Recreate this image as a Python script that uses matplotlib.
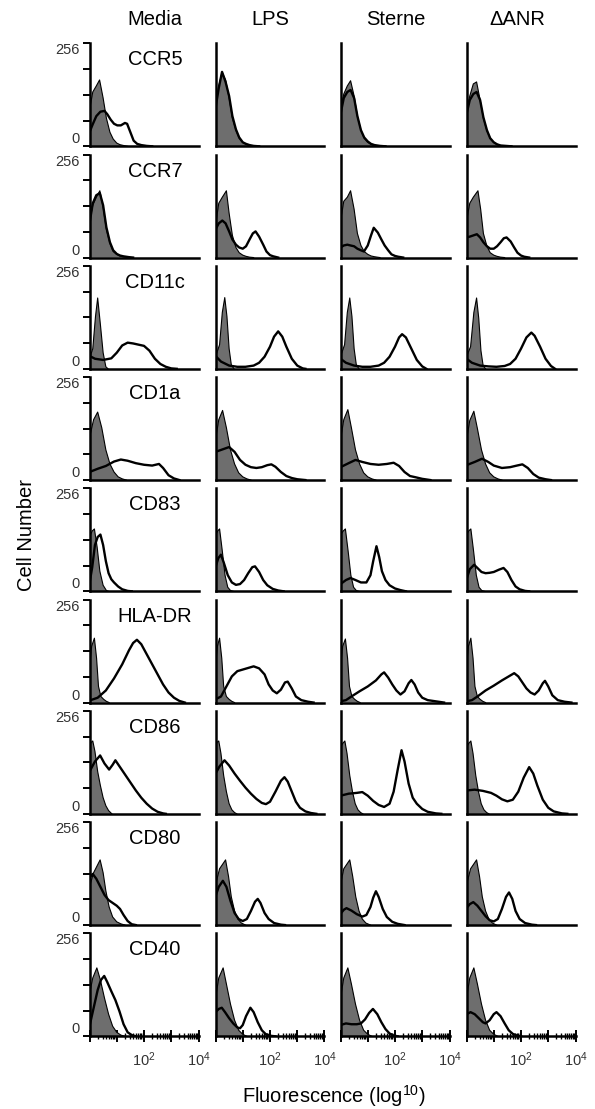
import matplotlib
matplotlib.use('Agg')
import numpy as np
import matplotlib.pyplot as plt
from matplotlib.ticker import FixedLocator, LogLocator, NullFormatter, NullLocator

plt.rcParams['font.family'] = ['Liberation Sans', 'DejaVu Sans']
plt.rcParams['mathtext.fontset'] = 'custom'
plt.rcParams['mathtext.rm'] = 'Liberation Sans'
plt.rcParams['mathtext.it'] = 'Liberation Sans:italic'
plt.rcParams['mathtext.bf'] = 'Liberation Sans:bold'

conditions = ['Media', 'LPS', 'Sterne', '\u0394ANR']
markers = ['CCR5', 'CCR7', 'CD11c', 'CD1a', 'CD83', 'HLA-DR', 'CD86', 'CD80', 'CD40']

# histograms: (log10 fluorescence, cell count) points
# every list holds 4 curves in the order Media, LPS, Sterne, dANR
# *_iso = grey filled control, *_ab = black outline (stained)
ccr5_iso = [
    [(0, 90), (0.12, 135), (0.25, 150), (0.37, 165), (0.5, 120), (0.62, 70), (0.75, 35), (0.87, 18), (1.0, 8), (1.12, 4), (1.25, 2), (1.4, 0)],
    [(0, 100), (0.12, 150), (0.24, 184), (0.37, 165), (0.5, 120), (0.62, 70), (0.75, 40), (0.87, 20), (1.0, 10), (1.12, 5), (1.25, 2), (1.45, 0)],
    [(0, 90), (0.12, 130), (0.25, 150), (0.37, 163), (0.5, 125), (0.62, 75), (0.75, 40), (0.87, 20), (1.0, 10), (1.12, 5), (1.25, 2), (1.45, 0)],
    [(0, 90), (0.12, 125), (0.25, 155), (0.37, 160), (0.5, 115), (0.62, 70), (0.75, 38), (0.87, 20), (1.0, 10), (1.12, 5), (1.25, 2), (1.45, 0)],
]
ccr5_ab = [
    [(0, 35), (0.12, 55), (0.25, 75), (0.4, 86), (0.55, 88), (0.65, 80), (0.78, 66), (0.9, 56), (1.02, 52), (1.15, 52), (1.3, 58), (1.38, 56), (1.5, 35), (1.62, 14), (1.75, 6), (1.9, 3), (2.1, 1), (2.3, 0)],
    [(0, 95), (0.12, 145), (0.24, 185), (0.37, 160), (0.5, 125), (0.62, 75), (0.75, 42), (0.87, 22), (1.0, 10), (1.12, 6), (1.25, 3), (1.4, 1), (1.6, 0)],
    [(0, 80), (0.12, 120), (0.25, 135), (0.37, 140), (0.5, 120), (0.62, 75), (0.75, 40), (0.87, 22), (1.0, 12), (1.12, 6), (1.25, 3), (1.45, 1), (1.65, 0)],
    [(0, 80), (0.12, 115), (0.25, 130), (0.37, 135), (0.5, 115), (0.62, 72), (0.75, 40), (0.87, 20), (1.0, 10), (1.12, 5), (1.25, 2), (1.45, 1), (1.65, 0)],
]

ccr7_iso = [
    [(0, 90), (0.12, 130), (0.25, 150), (0.38, 166), (0.5, 125), (0.62, 70), (0.75, 35), (0.87, 15), (1.0, 8), (1.12, 4), (1.25, 2), (1.45, 0)],
    [(0, 80), (0.12, 135), (0.25, 150), (0.4, 166), (0.5, 110), (0.62, 55), (0.75, 25), (0.87, 12), (1.0, 6), (1.12, 3), (1.25, 1), (1.4, 0)],
    [(0, 90), (0.12, 140), (0.25, 150), (0.37, 166), (0.5, 120), (0.62, 60), (0.75, 30), (0.87, 15), (1.0, 8), (1.12, 4), (1.25, 2), (1.45, 0)],
    [(0, 90), (0.12, 135), (0.25, 150), (0.42, 166), (0.52, 120), (0.62, 60), (0.75, 28), (0.87, 12), (1.0, 6), (1.12, 3), (1.25, 1), (1.4, 0)],
]
ccr7_ab = [
    [(0, 85), (0.12, 135), (0.25, 155), (0.38, 160), (0.5, 130), (0.62, 75), (0.75, 38), (0.87, 18), (1.0, 9), (1.12, 5), (1.25, 3), (1.45, 1), (1.6, 0)],
    [(0, 70), (0.12, 85), (0.25, 92), (0.37, 85), (0.5, 65), (0.62, 45), (0.75, 32), (0.87, 25), (1.0, 22), (1.12, 28), (1.25, 45), (1.37, 60), (1.47, 65), (1.6, 52), (1.75, 32), (1.87, 15), (2.0, 6), (2.12, 3), (2.3, 0)],
    [(0, 25), (0.12, 30), (0.25, 32), (0.37, 30), (0.5, 28), (0.62, 22), (0.75, 18), (0.86, 15), (1.0, 30), (1.12, 55), (1.22, 74), (1.37, 62), (1.5, 45), (1.62, 30), (1.75, 18), (1.87, 8), (2.0, 4), (2.12, 2), (2.3, 0)],
    [(0, 50), (0.12, 52), (0.25, 55), (0.38, 58), (0.5, 50), (0.62, 38), (0.75, 28), (0.87, 22), (1.0, 22), (1.12, 28), (1.25, 38), (1.37, 48), (1.47, 50), (1.62, 40), (1.75, 25), (1.87, 12), (2.0, 5), (2.12, 2), (2.3, 0)],
]

cd11c_iso = [
    [(0, 25), (0.12, 50), (0.22, 130), (0.3, 176), (0.4, 110), (0.5, 40), (0.6, 5), (0.68, 0)],
    [(0, 30), (0.15, 60), (0.25, 140), (0.34, 177), (0.42, 130), (0.5, 50), (0.58, 10), (0.68, 0)],
    [(0, 30), (0.15, 60), (0.25, 140), (0.34, 176), (0.42, 130), (0.5, 50), (0.58, 10), (0.68, 0)],
    [(0, 30), (0.15, 55), (0.27, 140), (0.37, 176), (0.45, 125), (0.53, 45), (0.61, 8), (0.7, 0)],
]
cd11c_ab = [
    [(0, 32), (0.2, 25), (0.5, 22), (0.8, 26), (1.0, 40), (1.2, 58), (1.4, 65), (1.6, 63), (1.8, 60), (2.0, 57), (2.2, 45), (2.4, 25), (2.6, 12), (2.8, 5), (3.0, 1), (3.2, 0)],
    [(0, 32), (0.2, 18), (0.5, 8), (0.8, 5), (1.1, 5), (1.4, 8), (1.6, 15), (1.8, 30), (2.0, 55), (2.15, 80), (2.3, 93), (2.45, 80), (2.6, 55), (2.8, 25), (3.0, 8), (3.2, 1), (3.3, 0)],
    [(0, 25), (0.2, 15), (0.5, 8), (0.8, 5), (1.1, 5), (1.4, 8), (1.6, 15), (1.8, 30), (2.0, 55), (2.15, 78), (2.26, 86), (2.4, 78), (2.6, 50), (2.8, 22), (3.0, 6), (3.15, 0)],
    [(0, 25), (0.2, 15), (0.5, 8), (0.8, 6), (1.1, 5), (1.4, 7), (1.6, 12), (1.8, 25), (2.0, 50), (2.2, 78), (2.38, 90), (2.5, 82), (2.7, 55), (2.9, 25), (3.1, 7), (3.25, 0)],
]

cd1a_iso = [
    [(0, 105), (0.15, 150), (0.3, 169), (0.45, 130), (0.6, 75), (0.75, 40), (0.9, 20), (1.05, 8), (1.2, 3), (1.35, 0)],
    [(0, 100), (0.12, 150), (0.26, 173), (0.4, 130), (0.55, 75), (0.7, 40), (0.85, 18), (1.0, 8), (1.15, 3), (1.3, 0)],
    [(0, 100), (0.12, 150), (0.27, 175), (0.4, 130), (0.55, 75), (0.7, 40), (0.85, 18), (1.0, 8), (1.15, 3), (1.3, 0)],
    [(0, 100), (0.12, 148), (0.27, 171), (0.4, 128), (0.55, 75), (0.7, 40), (0.85, 18), (1.0, 8), (1.15, 3), (1.3, 0)],
]
cd1a_ab = [
    [(0, 20), (0.3, 28), (0.6, 35), (0.9, 46), (1.15, 51), (1.4, 48), (1.7, 42), (2.0, 38), (2.3, 36), (2.55, 40), (2.7, 30), (2.9, 12), (3.1, 4), (3.3, 0)],
    [(0, 70), (0.25, 76), (0.5, 82), (0.7, 70), (0.9, 50), (1.1, 38), (1.3, 32), (1.5, 30), (1.7, 32), (1.9, 37), (2.05, 39), (2.2, 33), (2.4, 20), (2.6, 10), (2.8, 5), (3.0, 2), (3.3, 0)],
    [(0, 32), (0.3, 42), (0.55, 50), (0.8, 45), (1.1, 40), (1.4, 38), (1.7, 40), (1.95, 43), (2.15, 35), (2.35, 20), (2.55, 10), (2.75, 7), (3.0, 3), (3.3, 0)],
    [(0, 37), (0.3, 45), (0.57, 53), (0.8, 45), (1.0, 36), (1.3, 30), (1.6, 32), (1.85, 36), (2.05, 39), (2.25, 30), (2.45, 15), (2.65, 6), (2.9, 2), (3.1, 0)],
]

cd83_iso = [
    [(0, 135), (0.1, 150), (0.18, 155), (0.28, 110), (0.38, 50), (0.5, 15), (0.62, 2), (0.7, 0)],
    [(0, 140), (0.08, 150), (0.15, 155), (0.25, 100), (0.35, 40), (0.45, 10), (0.55, 2), (0.65, 0)],
    [(0, 140), (0.1, 150), (0.18, 155), (0.28, 100), (0.38, 40), (0.48, 10), (0.58, 2), (0.68, 0)],
    [(0, 140), (0.08, 150), (0.16, 155), (0.26, 100), (0.36, 40), (0.46, 10), (0.56, 2), (0.66, 0)],
]
cd83_ab = [
    [(0, 20), (0.1, 60), (0.2, 115), (0.3, 135), (0.4, 141), (0.5, 115), (0.6, 75), (0.7, 45), (0.8, 30), (0.9, 22), (1.05, 12), (1.2, 5), (1.4, 1), (1.55, 0)],
    [(0, 60), (0.1, 82), (0.2, 91), (0.3, 72), (0.45, 40), (0.6, 22), (0.75, 16), (0.9, 18), (1.05, 28), (1.2, 45), (1.35, 60), (1.45, 62), (1.6, 48), (1.75, 28), (1.9, 15), (2.1, 6), (2.3, 2), (2.5, 0)],
    [(0, 18), (0.2, 28), (0.37, 33), (0.55, 28), (0.75, 22), (0.95, 22), (1.1, 40), (1.2, 75), (1.32, 112), (1.42, 85), (1.52, 50), (1.65, 28), (1.8, 15), (2.0, 7), (2.2, 3), (2.4, 0)],
    [(0, 30), (0.12, 55), (0.28, 66), (0.4, 58), (0.55, 48), (0.7, 45), (0.85, 46), (1.0, 48), (1.2, 54), (1.36, 58), (1.5, 48), (1.65, 28), (1.8, 12), (1.95, 5), (2.15, 1), (2.3, 0)],
]

hladr_iso = [
    [(0, 90), (0.08, 140), (0.18, 160), (0.26, 110), (0.33, 40), (0.42, 15), (0.52, 8), (0.62, 3), (0.72, 0)],
    [(0, 90), (0.07, 140), (0.15, 160), (0.23, 110), (0.3, 40), (0.4, 15), (0.5, 8), (0.6, 3), (0.7, 0)],
    [(0, 90), (0.08, 140), (0.18, 158), (0.26, 110), (0.33, 40), (0.42, 15), (0.52, 8), (0.62, 3), (0.72, 0)],
    [(0, 90), (0.07, 140), (0.16, 160), (0.24, 110), (0.31, 40), (0.4, 15), (0.5, 8), (0.6, 3), (0.7, 0)],
]
hladr_ab = [
    [(0, 5), (0.3, 12), (0.6, 30), (0.9, 60), (1.2, 95), (1.45, 130), (1.6, 148), (1.74, 156), (1.9, 145), (2.1, 120), (2.3, 95), (2.5, 70), (2.7, 45), (2.9, 25), (3.1, 12), (3.3, 4), (3.5, 0)],
    [(0, 8), (0.2, 15), (0.4, 40), (0.6, 65), (0.8, 78), (1.0, 82), (1.2, 86), (1.4, 90), (1.6, 85), (1.8, 70), (1.95, 45), (2.1, 30), (2.25, 23), (2.4, 32), (2.55, 50), (2.65, 52), (2.8, 35), (2.95, 15), (3.15, 6), (3.4, 2), (3.6, 0)],
    [(0, 3), (0.2, 6), (0.4, 15), (0.7, 28), (1.0, 40), (1.3, 55), (1.5, 70), (1.6, 75), (1.75, 62), (1.9, 45), (2.05, 30), (2.2, 20), (2.35, 28), (2.5, 48), (2.6, 56), (2.72, 45), (2.85, 25), (3.0, 12), (3.2, 6), (3.5, 3), (3.8, 0)],
    [(0, 3), (0.2, 6), (0.4, 15), (0.7, 30), (1.0, 42), (1.3, 55), (1.55, 65), (1.75, 73), (1.9, 65), (2.05, 50), (2.2, 35), (2.35, 25), (2.5, 20), (2.65, 30), (2.8, 48), (2.88, 54), (3.0, 40), (3.15, 18), (3.35, 6), (3.6, 2), (3.85, 0)],
]

cd86_iso = [
    [(0, 172), (0.07, 178), (0.12, 181), (0.2, 155), (0.3, 105), (0.4, 70), (0.5, 40), (0.6, 20), (0.7, 8), (0.82, 0)],
    [(0, 170), (0.06, 178), (0.12, 181), (0.2, 150), (0.3, 95), (0.4, 55), (0.5, 25), (0.6, 10), (0.7, 3), (0.78, 0)],
    [(0, 165), (0.08, 175), (0.16, 181), (0.24, 150), (0.34, 95), (0.44, 55), (0.54, 25), (0.64, 10), (0.74, 3), (0.82, 0)],
    [(0, 165), (0.08, 175), (0.16, 181), (0.24, 150), (0.34, 95), (0.44, 55), (0.54, 25), (0.64, 10), (0.74, 3), (0.82, 0)],
]
cd86_ab = [
    [(0, 105), (0.2, 130), (0.39, 145), (0.55, 125), (0.72, 110), (0.85, 122), (0.95, 133), (1.1, 118), (1.3, 98), (1.5, 78), (1.7, 58), (1.9, 40), (2.1, 25), (2.3, 13), (2.5, 5), (2.7, 1), (2.8, 0)],
    [(0, 100), (0.15, 118), (0.33, 133), (0.5, 120), (0.7, 100), (0.9, 82), (1.1, 65), (1.3, 50), (1.5, 37), (1.7, 27), (1.85, 24), (2.0, 30), (2.2, 55), (2.4, 82), (2.53, 91), (2.65, 80), (2.8, 55), (2.95, 30), (3.1, 15), (3.3, 6), (3.5, 2), (3.7, 0)],
    [(0, 45), (0.3, 50), (0.6, 52), (0.8, 54), (1.0, 45), (1.2, 32), (1.4, 22), (1.6, 17), (1.8, 25), (1.95, 55), (2.1, 110), (2.24, 158), (2.35, 130), (2.5, 75), (2.65, 40), (2.8, 25), (3.0, 12), (3.2, 5), (3.5, 1), (3.7, 0)],
    [(0, 58), (0.3, 60), (0.6, 57), (0.9, 52), (1.1, 45), (1.3, 36), (1.5, 31), (1.7, 35), (1.9, 55), (2.1, 90), (2.3, 116), (2.45, 100), (2.6, 70), (2.8, 35), (3.0, 15), (3.2, 6), (3.5, 1), (3.7, 0)],
]

cd80_iso = [
    [(0, 95), (0.15, 130), (0.3, 150), (0.39, 162), (0.5, 130), (0.6, 85), (0.72, 45), (0.85, 20), (1.0, 8), (1.15, 3), (1.3, 0)],
    [(0, 100), (0.15, 140), (0.3, 155), (0.37, 162), (0.48, 120), (0.58, 70), (0.7, 35), (0.82, 15), (0.95, 5), (1.1, 0)],
    [(0, 100), (0.12, 140), (0.27, 155), (0.34, 162), (0.45, 120), (0.56, 70), (0.68, 35), (0.8, 15), (0.93, 5), (1.1, 0)],
    [(0, 100), (0.15, 140), (0.3, 155), (0.37, 162), (0.48, 120), (0.58, 70), (0.7, 35), (0.82, 15), (0.95, 5), (1.1, 0)],
]
cd80_ab = [
    [(0, 118), (0.12, 127), (0.25, 115), (0.4, 95), (0.55, 75), (0.7, 62), (0.85, 55), (1.0, 48), (1.12, 40), (1.25, 25), (1.4, 10), (1.55, 2), (1.7, 0)],
    [(0, 72), (0.12, 95), (0.27, 110), (0.4, 95), (0.55, 60), (0.7, 30), (0.85, 15), (1.0, 10), (1.15, 15), (1.3, 35), (1.45, 58), (1.55, 65), (1.65, 55), (1.8, 30), (1.95, 15), (2.15, 5), (2.4, 1), (2.55, 0)],
    [(0, 28), (0.12, 38), (0.22, 42), (0.4, 36), (0.6, 27), (0.8, 21), (0.95, 25), (1.1, 45), (1.2, 68), (1.3, 84), (1.4, 70), (1.55, 40), (1.7, 20), (1.9, 8), (2.1, 3), (2.35, 0)],
    [(0, 42), (0.12, 52), (0.25, 57), (0.4, 48), (0.55, 35), (0.7, 22), (0.85, 12), (1.0, 9), (1.15, 15), (1.3, 40), (1.45, 70), (1.56, 81), (1.68, 65), (1.8, 35), (1.95, 15), (2.15, 5), (2.4, 1), (2.55, 0)],
]

cd40_iso = [
    [(0, 105), (0.12, 145), (0.27, 170), (0.4, 140), (0.55, 95), (0.7, 55), (0.85, 25), (1.0, 10), (1.15, 3), (1.3, 0)],
    [(0, 95), (0.12, 145), (0.28, 170), (0.4, 130), (0.55, 80), (0.7, 40), (0.85, 15), (1.0, 5), (1.15, 0)],
    [(0, 95), (0.12, 145), (0.27, 170), (0.4, 130), (0.55, 80), (0.7, 40), (0.85, 15), (1.0, 5), (1.15, 0)],
    [(0, 95), (0.12, 145), (0.27, 170), (0.4, 130), (0.55, 80), (0.7, 40), (0.85, 15), (1.0, 5), (1.15, 0)],
]
cd40_ab = [
    [(0, 25), (0.15, 70), (0.3, 115), (0.42, 140), (0.54, 150), (0.65, 135), (0.8, 112), (0.95, 90), (1.1, 62), (1.25, 30), (1.4, 10), (1.55, 3), (1.7, 0)],
    [(0, 60), (0.12, 68), (0.23, 71), (0.35, 60), (0.5, 45), (0.65, 32), (0.8, 22), (0.9, 20), (1.0, 28), (1.12, 50), (1.28, 71), (1.4, 60), (1.55, 35), (1.7, 15), (1.85, 5), (2.05, 1), (2.2, 0)],
    [(0, 28), (0.2, 32), (0.4, 30), (0.6, 30), (0.75, 32), (0.9, 42), (1.05, 58), (1.19, 68), (1.35, 55), (1.5, 35), (1.65, 18), (1.8, 7), (1.95, 2), (2.1, 0)],
    [(0, 55), (0.15, 60), (0.3, 55), (0.45, 45), (0.6, 35), (0.7, 32), (0.85, 40), (1.0, 55), (1.1, 60), (1.25, 50), (1.4, 32), (1.55, 15), (1.7, 6), (1.85, 2), (2.0, 0)],
]

rows = [
    (ccr5_iso, ccr5_ab), (ccr7_iso, ccr7_ab), (cd11c_iso, cd11c_ab),
    (cd1a_iso, cd1a_ab), (cd83_iso, cd83_ab), (hladr_iso, hladr_ab),
    (cd86_iso, cd86_ab), (cd80_iso, cd80_ab), (cd40_iso, cd40_ab),
]

# layout in pixels
W, H = 595, 1109
fig = plt.figure(figsize=(W / 100, H / 100), dpi=100)
col_x = [89.5, 215.5, 340.5, 466.5]
pw, ph = 109, 103
top0, pitch = 43.3, 111.25
grey = '#6e6e6e'


def px(x, y):
    return x / W, 1 - y / H


for r, (iso, ab) in enumerate(rows):
    top = top0 + r * pitch
    for c in range(4):
        ax = fig.add_axes([col_x[c] / W, 1 - (top + ph) / H, pw / W, ph / H])
        L, n = np.array(iso[c], dtype=float).T
        ax.fill_between(10 ** L, n, 0, facecolor=grey, edgecolor='none', zorder=2)
        ax.plot(10 ** L, n, color='black', lw=0.8, zorder=3)
        L2, n2 = np.array(ab[c], dtype=float).T
        ax.plot(10 ** L2, n2, color='black', lw=1.7, zorder=4, solid_joinstyle='round')

        ax.set_xscale('log')
        ax.set_xlim(1, 1e4)
        ax.set_ylim(0, 256)
        for s in ['top', 'right']:
            ax.spines[s].set_visible(False)
        for s in ['left', 'bottom']:
            ax.spines[s].set_linewidth(1.8)
        ax.patch.set_alpha(0)

        if c == 0:
            ax.set_yticks([0, 64, 128, 192, 256])
            ax.set_yticklabels(['0', '', '', '', '256'])
            ax.tick_params(axis='y', direction='out', length=5, width=1.4,
                           labelsize=10.5, pad=2, labelcolor='#333333')
            labs = ax.get_yticklabels()
            labs[0].set_va('bottom')
            labs[4].set_va('top')
        else:
            ax.set_yticks([])

        if r == len(rows) - 1:
            ax.xaxis.set_major_locator(FixedLocator([1, 10, 100, 1000, 10000]))
            ax.set_xticklabels(['', '', r'$\mathregular{10^2}$', '', r'$\mathregular{10^4}$'])
            ax.xaxis.set_minor_locator(LogLocator(base=10, subs=range(2, 10), numticks=30))
            ax.xaxis.set_minor_formatter(NullFormatter())
            ax.tick_params(axis='x', which='major', direction='inout', length=8,
                           width=1.4, labelsize=10.5, pad=6, labelcolor='#333333')
            ax.tick_params(axis='x', which='minor', direction='inout', length=5, width=1.0)
        else:
            ax.xaxis.set_major_locator(NullLocator())
            ax.xaxis.set_minor_locator(NullLocator())

        if c == 0:
            fig.text(*px(155, top + 22), markers[r], ha='center', va='baseline', fontsize=14.5)

header_x = [155, 270, 396, 517]
for c, name in enumerate(conditions):
    fig.text(*px(header_x[c], 25), name, ha='center', va='baseline', fontsize=14.5)

fig.text(*px(27, 535), 'Cell Number', ha='center', va='center', rotation=90, fontsize=14.5)
fig.text(*px(334, 1103), r'Fluorescence (log$^{10}$)', ha='center', va='baseline', fontsize=14.5)

fig.savefig('out.png', dpi=100)
